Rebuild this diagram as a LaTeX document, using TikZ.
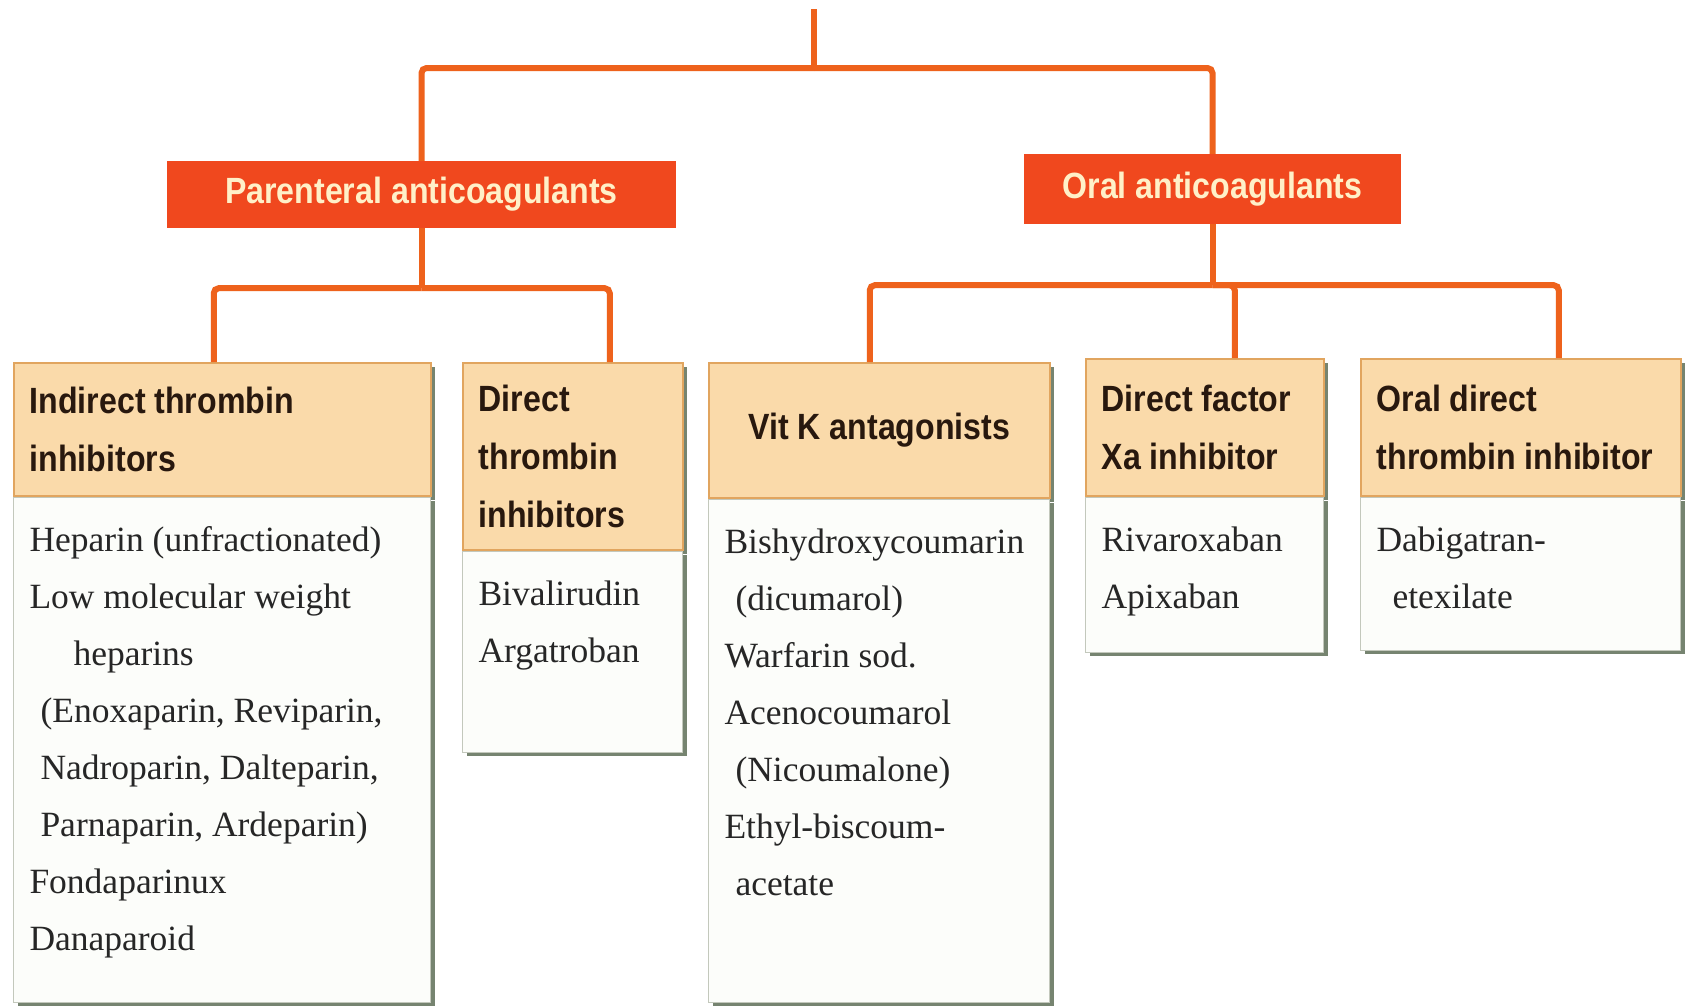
\documentclass[tikz,border=0pt]{standalone}
\usepackage{fontspec}
\newfontfamily\hdrfont[FakeStretch=0.88]{Liberation Sans}
\newfontfamily\bodyfont{Liberation Serif}
\usetikzlibrary{shadows}
\definecolor{conncol}{RGB}{238,98,28}
\definecolor{topfill}{RGB}{240,72,30}
\definecolor{toptext}{RGB}{255,240,200}
\definecolor{hdrfill}{RGB}{250,218,170}
\definecolor{hdrline}{RGB}{225,165,95}
\definecolor{hdrtext}{RGB}{40,24,14}
\definecolor{bodyfill}{RGB}{252,253,250}
\definecolor{bodyline}{RGB}{195,200,188}
\definecolor{bodytext}{RGB}{38,38,38}
\definecolor{shadowcol}{RGB}{118,132,112}
\newcommand\Hbox[3]{\parbox[c][#2pt][c]{#1pt}{\raggedright\leftskip=16pt\relax #3}}
\newcommand\Hcbox[3]{\parbox[c][#2pt][c]{#1pt}{\centering #3}}
\newcommand\Bbox[3]{\parbox[t][#2pt][t]{#1pt}{\raggedright\leftskip=16pt\relax\rule{0pt}{54pt}#3}}
\begin{document}
\begin{tikzpicture}[x=1pt,y=-1pt,
  connector/.style={draw=conncol, line width=6pt, rounded corners=5pt},
  topbox/.style={fill=topfill, inner sep=0pt, text=toptext,
    font={\hdrfont\bfseries\fontsize{36.5pt}{44pt}\selectfont}},
  hdrbox/.style={draw=hdrline, line width=1.5pt, fill=hdrfill, inner sep=0pt,
    anchor=north west, text=hdrtext,
    font={\hdrfont\bfseries\fontsize{36.5pt}{58pt}\selectfont},
    general shadow={fill=shadowcol, shadow xshift=4pt, shadow yshift=-4pt}},
  bodybox/.style={draw=bodyline, line width=1pt, fill=bodyfill, inner sep=0pt,
    anchor=north west, text=bodytext,
    font={\bodyfont\fontsize{35.5pt}{57pt}\selectfont},
    general shadow={fill=shadowcol, shadow xshift=4pt, shadow yshift=-4pt}}
]
\fill[white] (0,0) rectangle (1687,1005);
\useasboundingbox (0,0) rectangle (1687,1005);

% top-level category boxes
\node[topbox, minimum width=509pt, minimum height=67pt] (par) at (421.5,194.5) {Parenteral anticoagulants};
\node[topbox, minimum width=377pt, minimum height=70pt] (oral) at (1212.5,189) {Oral anticoagulants};

% group boxes: headers
\node[hdrbox] (h1) at (13,362) {\Hbox{417}{133}{Indirect thrombin\\inhibitors}};
\node[hdrbox] (h2) at (462,362) {\Hbox{220}{187}{Direct\\thrombin\\inhibitors}};
\node[hdrbox] (h3) at (708,362) {\Hcbox{341}{135}{Vit K antagonists}};
\node[hdrbox] (h4) at (1085,358) {\Hbox{238}{137}{Direct factor\\Xa inhibitor}};
\node[hdrbox] (h5) at (1360,358) {\Hbox{320}{137}{Oral direct\\thrombin inhibitor}};

% group boxes: bodies
\node[bodybox] (b1) at (h1.south west) {\Bbox{417}{505}{Heparin (unfractionated)\\Low molecular weight\\\hspace*{44pt}heparins\\\hspace*{11pt}(Enoxaparin, Reviparin,\\\hspace*{11pt}Nadroparin, Dalteparin,\\\hspace*{11pt}Parnaparin, Ardeparin)\\Fondaparinux\\Danaparoid}};
\node[bodybox] (b2) at (h2.south west) {\Bbox{220}{201}{Bivalirudin\\Argatroban}};
\node[bodybox] (b3) at (h3.south west) {\Bbox{341}{503}{Bishydroxycoumarin\\\hspace*{11pt}(dicumarol)\\Warfarin sod.\\Acenocoumarol\\\hspace*{11pt}(Nicoumalone)\\Ethyl-biscoum-\\\hspace*{11pt}acetate}};
\node[bodybox] (b4) at (h4.south west) {\Bbox{238}{155}{Rivaroxaban\\Apixaban}};
\node[bodybox] (b5) at (h5.south west) {\Bbox{320}{153}{Dabigatran-\\\hspace*{16pt}etexilate}};

% connectors
\coordinate (root) at (814,9);
\coordinate (rootj) at (814,68);
\coordinate (pj) at ([yshift=-60pt]par.south);
\coordinate (oj) at ([yshift=-61pt]oral.south);
\draw[connector] (root) -- (rootj);
\draw[connector] (rootj) -| (par.north);
\draw[connector] (rootj) -| (oral.north);
\draw[connector] (par.south) -- (pj);
\draw[connector] (pj) -| ([xshift=-8.5pt]h1.north);
\draw[connector] (pj) -| ([xshift=37pt]h2.north);
\draw[connector] (oral.south) -- (oj);
\draw[connector] (oj) -| ([xshift=-9.5pt]h3.north);
\draw[connector] (oj) -| ([xshift=30pt]h4.north);
\draw[connector] (oj) -| ([xshift=38pt]h5.north);
\end{tikzpicture}
\end{document}
